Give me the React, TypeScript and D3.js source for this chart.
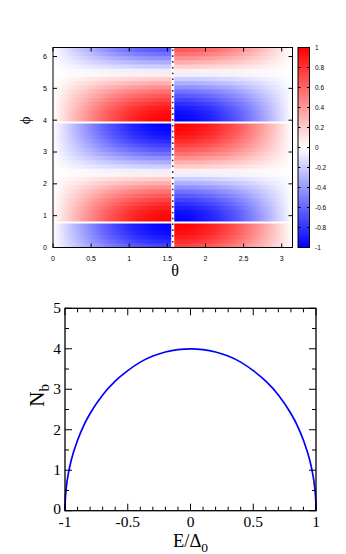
import React, { useEffect, useRef } from 'react';
import * as d3 from 'd3';

// --- top panel: map over (theta, phi) ---
const thetaTicks = [0, 0.5, 1, 1.5, 2, 2.5, 3];
const phiTicks = [0, 1, 2, 3, 4, 5, 6];
const cbTicks = [-1, -0.8, -0.6, -0.4, -0.2, 0, 0.2, 0.4, 0.6, 0.8, 1];

// amplitude across theta, sampled every pi/24 (0 .. pi/2, then pi/2 .. pi)
const thetaAmpLeft = [0, 0.13, 0.26, 0.38, 0.5, 0.61, 0.71, 0.79, 0.87, 0.92, 0.97, 0.99, 1.0];
const thetaAmpRight = [-1.0, -0.99, -0.97, -0.92, -0.87, -0.79, -0.71, -0.61, -0.5, -0.38, -0.26, -0.13, 0];

// profile along phi, one row per pi/24 (row centres), bottom to top
const phiProfile = [
  -0.75, -0.83, -0.9, -0.95, -0.98, -1.0,
  1.0, 0.98, 0.95, 0.9, 0.83, 0.75, 0.66, 0.56, 0.44, 0.32, 0.2, 0.07,
  -0.07, -0.2, -0.32, -0.44, -0.56, -0.66, -0.75, -0.83, -0.9, -0.95, -0.98, -1.0,
  1.0, 0.98, 0.95, 0.9, 0.83, 0.75, 0.66, 0.56, 0.44, 0.32, 0.2, 0.07,
  -0.07, -0.2, -0.32, -0.44, -0.56, -0.66,
];
const phiJumps = [Math.PI / 4, (5 * Math.PI) / 4];

// --- bottom panel: N_b vs E/Delta_0 ---
const energy = [-1, -0.998, -0.99, -0.97, -0.95, -0.9, -0.85, -0.8, -0.7, -0.6, -0.5, -0.4, -0.3, -0.2, -0.1,
  0, 0.1, 0.2, 0.3, 0.4, 0.5, 0.6, 0.7, 0.8, 0.85, 0.9, 0.95, 0.97, 0.99, 0.998, 1];
const nb = [0, 0.25, 0.56, 0.97, 1.25, 1.74, 2.11, 2.4, 2.86, 3.2, 3.46, 3.67, 3.82, 3.92, 3.98,
  4, 3.98, 3.92, 3.82, 3.67, 3.46, 3.2, 2.86, 2.4, 2.11, 1.74, 1.25, 0.97, 0.56, 0.25, 0];
const eTicks = [-1, -0.5, 0, 0.5, 1];
const nTicks = [0, 1, 2, 3, 4, 5];

const W = 346;
const H = 554;

// plain hyphen minus, like the original plots
const fmt = (v: number) => String(+v.toFixed(2));

export default function App() {
  const ref = useRef<SVGSVGElement>(null);

  useEffect(() => {
    const svg = d3.select(ref.current);
    svg.selectAll('*').remove();

    const color = d3.scaleLinear<string>()
      .domain([-1, 0, 1])
      .range(['#0000ff', '#ffffff', '#ff0000']);

    // ================= heat map =================
    const x = d3.scaleLinear().domain([0, Math.PI]).range([53, 292.5]);
    const y = d3.scaleLinear().domain([0, 2 * Math.PI]).range([247.5, 47.5]);
    const defs = svg.append('defs');
    const half = Math.PI / 2;
    const step = Math.PI / 24;
    const span = x(Math.PI) - x(0);

    const top = svg.append('g');
    phiProfile.forEach((b, j) => {
      const gid = `row-${j}`;
      const g = defs.append('linearGradient').attr('id', gid)
        .attr('gradientUnits', 'userSpaceOnUse')
        .attr('x1', x(0)).attr('x2', x(Math.PI)).attr('y1', 0).attr('y2', 0);
      thetaAmpLeft.forEach((a, i) => {
        g.append('stop').attr('offset', (x(i * step) - x(0)) / span)
          .attr('stop-color', color(a * b));
      });
      thetaAmpRight.forEach((a, i) => {
        g.append('stop').attr('offset', (x(half + i * step) - x(0)) / span)
          .attr('stop-color', color(a * b));
      });
      top.append('rect')
        .attr('x', x(0))
        .attr('y', y((j + 1) * step) - 0.3)
        .attr('width', span)
        .attr('height', y(j * step) - y((j + 1) * step) + 0.6)
        .attr('fill', `url(#${gid})`);
    });

    // white seams at the jumps
    phiJumps.forEach(p => {
      top.append('line')
        .attr('x1', x(0)).attr('x2', x(Math.PI))
        .attr('y1', y(p)).attr('y2', y(p))
        .attr('stroke', '#fff').attr('stroke-width', 2);
    });
    top.append('line')
      .attr('x1', x(half)).attr('x2', x(half))
      .attr('y1', y(2 * Math.PI)).attr('y2', y(0))
      .attr('stroke', '#fff').attr('stroke-width', 3);
    top.append('line')
      .attr('x1', x(half)).attr('x2', x(half))
      .attr('y1', y(2 * Math.PI) + 2).attr('y2', y(0) + 3)
      .attr('stroke', '#333').attr('stroke-width', 1.6)
      .attr('stroke-dasharray', '1.6 4.2');

    // frame + mirrored ticks
    top.append('rect')
      .attr('x', x(0)).attr('y', y(2 * Math.PI))
      .attr('width', span).attr('height', y(0) - y(2 * Math.PI))
      .attr('fill', 'none').attr('stroke', '#000').attr('stroke-width', 1);

    const sans = 'Liberation Sans, Arial, sans-serif';
    thetaTicks.forEach(t => {
      const xx = x(t);
      top.append('line').attr('x1', xx).attr('x2', xx).attr('y1', y(0)).attr('y2', y(0) - 4).attr('stroke', '#000');
      top.append('line').attr('x1', xx).attr('x2', xx).attr('y1', y(2 * Math.PI)).attr('y2', y(2 * Math.PI) + 4).attr('stroke', '#000');
      top.append('text').attr('x', xx).attr('y', 261)
        .attr('text-anchor', 'middle')
        .attr('font-family', sans).attr('font-size', 7)
        .text(fmt(t));
    });
    phiTicks.forEach(p => {
      const yy = y(p);
      top.append('line').attr('x1', x(0)).attr('x2', x(0) + 4).attr('y1', yy).attr('y2', yy).attr('stroke', '#000');
      top.append('line').attr('x1', x(Math.PI)).attr('x2', x(Math.PI) - 4).attr('y1', yy).attr('y2', yy).attr('stroke', '#000');
      top.append('text').attr('x', 47).attr('y', yy).attr('dy', '0.35em')
        .attr('text-anchor', 'end')
        .attr('font-family', sans).attr('font-size', 7)
        .text(fmt(p));
    });

    top.append('text').attr('x', 175).attr('y', 276)
      .attr('text-anchor', 'middle')
      .attr('font-family', 'Liberation Serif, serif').attr('font-size', 16)
      .text('θ');
    top.append('text')
      .attr('transform', `translate(30,${y(4)}) rotate(-90)`)
      .attr('text-anchor', 'middle')
      .attr('font-family', 'Liberation Serif, serif').attr('font-size', 15)
      .text('ϕ');

    // colour box
    const cy = d3.scaleLinear().domain([-1, 1]).range([247.5, 47.5]);
    const cbGrad = defs.append('linearGradient').attr('id', 'cb')
      .attr('x1', 0).attr('x2', 0).attr('y1', 1).attr('y2', 0);
    [-1, 0, 1].forEach(v => {
      cbGrad.append('stop').attr('offset', (v + 1) / 2).attr('stop-color', color(v));
    });
    top.append('rect')
      .attr('x', 298).attr('y', cy(1))
      .attr('width', 11.5).attr('height', cy(-1) - cy(1))
      .attr('fill', 'url(#cb)').attr('stroke', '#000').attr('stroke-width', 1);
    cbTicks.forEach(v => {
      const yy = cy(v);
      top.append('line').attr('x1', 298).attr('x2', 300.5).attr('y1', yy).attr('y2', yy).attr('stroke', '#000');
      top.append('line').attr('x1', 309.5).attr('x2', 307).attr('y1', yy).attr('y2', yy).attr('stroke', '#000');
      top.append('text').attr('x', 315).attr('y', yy).attr('dy', '0.35em')
        .attr('font-family', sans).attr('font-size', 6.5)
        .text(fmt(v));
    });

    // ================= N_b curve =================
    const ex = d3.scaleLinear().domain([-1, 1]).range([65, 316]);
    const ny = d3.scaleLinear().domain([0, 5]).range([510.7, 308.3]);
    const bot = svg.append('g');

    const line = d3.line<number>()
      .x((_, i) => ex(energy[i]))
      .y(d => ny(d))
      .curve(d3.curveMonotoneX);
    bot.append('path')
      .attr('d', line(nb))
      .attr('fill', 'none').attr('stroke', '#0000ff').attr('stroke-width', 1.7);

    bot.append('rect')
      .attr('x', ex(-1)).attr('y', ny(5))
      .attr('width', ex(1) - ex(-1)).attr('height', ny(0) - ny(5))
      .attr('fill', 'none').attr('stroke', '#000').attr('stroke-width', 1.3);

    const serif = 'Liberation Serif, Times New Roman, serif';
    ex.ticks(20).forEach(t => {
      const major = eTicks.some(m => Math.abs(m - t) < 1e-9);
      const len = major ? 7 : 4;
      const xx = ex(t);
      bot.append('line').attr('x1', xx).attr('x2', xx).attr('y1', ny(0)).attr('y2', ny(0) - len).attr('stroke', '#000');
      bot.append('line').attr('x1', xx).attr('x2', xx).attr('y1', ny(5)).attr('y2', ny(5) + len).attr('stroke', '#000');
    });
    eTicks.forEach(t => {
      bot.append('text').attr('x', ex(t)).attr('y', 526.5)
        .attr('text-anchor', 'middle')
        .attr('font-family', serif).attr('font-size', 15.5)
        .text(fmt(t));
    });
    ny.ticks(10).forEach(t => {
      const major = nTicks.includes(t);
      const len = major ? 7 : 4;
      const yy = ny(t);
      bot.append('line').attr('x1', ex(-1)).attr('x2', ex(-1) + len).attr('y1', yy).attr('y2', yy).attr('stroke', '#000');
      bot.append('line').attr('x1', ex(1)).attr('x2', ex(1) - len).attr('y1', yy).attr('y2', yy).attr('stroke', '#000');
    });
    nTicks.forEach(t => {
      bot.append('text').attr('x', 61).attr('y', ny(t)).attr('dy', t === 0 ? '0.2em' : '0.33em')
        .attr('text-anchor', 'end')
        .attr('font-family', serif).attr('font-size', 15.5)
        .text(fmt(t));
    });

    const yl = bot.append('text')
      .attr('transform', `translate(44,${ny(2.85)}) rotate(-90)`)
      .attr('text-anchor', 'middle')
      .attr('font-family', serif).attr('font-size', 21);
    yl.append('tspan').text('N');
    yl.append('tspan').attr('font-size', 15).attr('dy', 5).text('b');

    const xl = bot.append('text')
      .attr('x', ex(0)).attr('y', 547)
      .attr('text-anchor', 'middle')
      .attr('font-family', serif).attr('font-size', 18.5);
    xl.append('tspan').text('E/Δ');
    xl.append('tspan').attr('font-size', 13.5).attr('dy', 4.5).text('0');
  }, []);

  return (
    <svg
      ref={ref}
      width={W}
      height={H}
      style={{ position: 'absolute', left: 0, top: 0, background: '#fff' }}
    />
  );
}
